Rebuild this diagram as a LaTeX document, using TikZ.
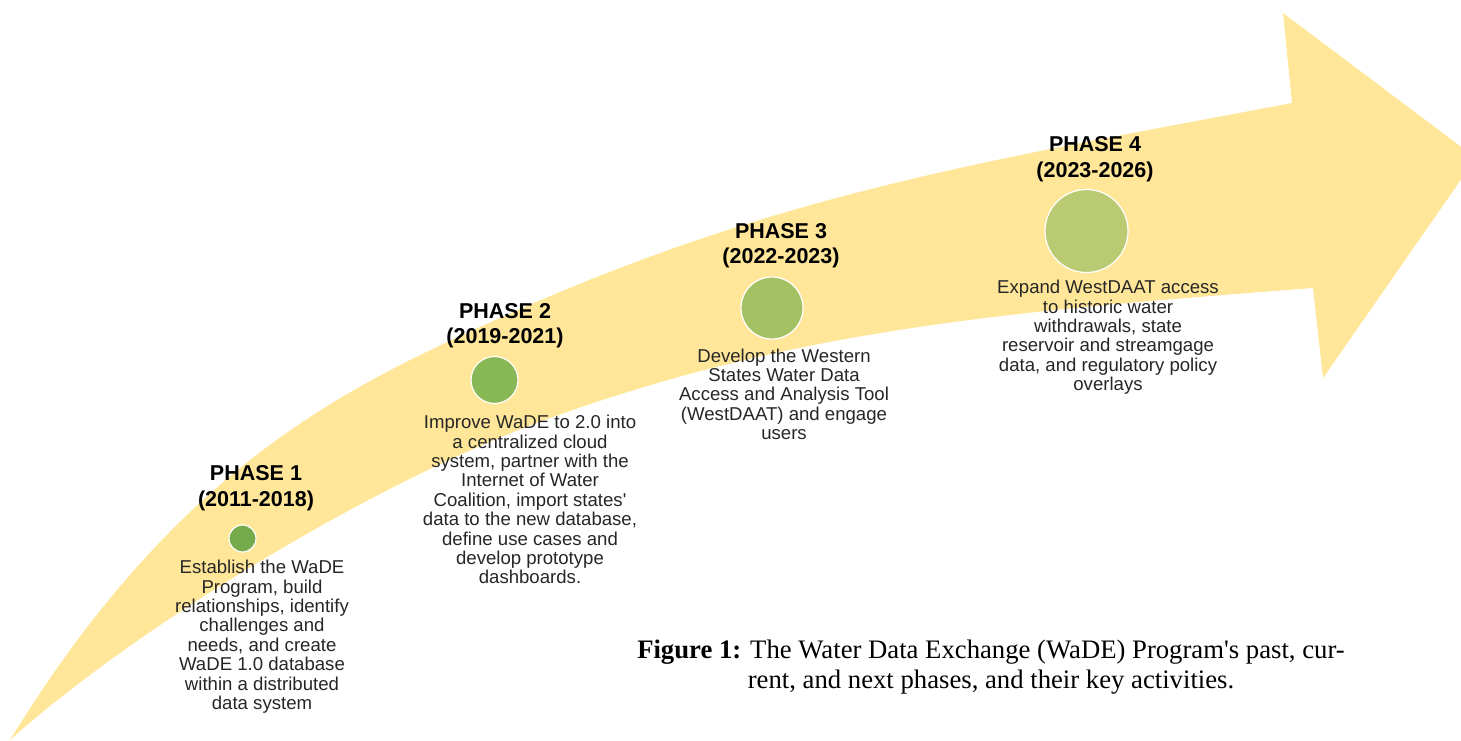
\documentclass[tikz,border=0pt]{standalone}
\usepackage{fontspec}
\setmainfont{Liberation Serif}
\newfontfamily\phasefont{Liberation Sans}
\definecolor{arrowgold}{RGB}{255,230,153}
\definecolor{dotA}{RGB}{118,171,76}
\definecolor{dotB}{RGB}{136,183,86}
\definecolor{dotC}{RGB}{163,193,98}
\definecolor{dotD}{RGB}{185,202,114}
\definecolor{bodygray}{RGB}{38,38,38}

\begin{document}
\begin{tikzpicture}[x=1pt, y=-1pt, line join=bevel]

    \tikzset{
      phase_dot/.style    = {circle, draw=white, line width=1.2pt, inner sep=0pt},
      phase_head/.style   = {anchor=north, inner sep=0pt, align=center,
                             font=\phasefont\bfseries\fontsize{21.5}{25.5}\selectfont},
      phase_text/.style   = {anchor=north, inner sep=0pt, align=center, text=bodygray,
                             font=\phasefont\fontsize{18.6}{19.4}\selectfont},
      caption_text/.style = {anchor=north, inner sep=0pt, align=center,
                             font=\fontsize{26.7}{30}\selectfont}
    }

    \useasboundingbox (0,0) rectangle (1461,740);

    % curved arrow, its tip runs out of the page
    \begin{scope}
        \clip (0,0) rectangle (1461,740);
        \fill[arrowgold]
            (10,740)   .. controls (180,463)   and (350,385.5) .. (500,318)
                       .. controls (780,192)   and (992,160)   .. (1292,103) --
            (1283,13)  --
            (1476,158) --
            (1323,378) --
            (1313,288) .. controls (1013,311)  and (800,328)   .. (550,418)
                       .. controls (370,482.8) and (130,632)   .. (10,740)   --
            cycle;
    \end{scope}

    % phase dots
    \foreach \name/\cx/\cy/\rad/\col in {
        dot1/242.5/538.5/13.5/dotA,
        dot2/494.5/380/23.5/dotB,
        dot3/772/308/31/dotC,
        dot4/1086.5/231/41.5/dotD%
    }{
        \node[phase_dot, fill=\col, minimum size=2*\rad] (\name) at (\cx,\cy) {};
    }

    % phase titles
    \foreach \name/\cx/\cy/\num/\yrs in {
        head1/256/465.3/1/2011-2018,
        head2/505/302.9/2/2019-2021,
        head3/781/223/3/2022-2023,
        head4/1095/136.3/4/2023-2026%
    }{
        \node[phase_head] (\name) at (\cx,\cy) {PHASE \num\\(\yrs)};
    }

    % key activities
    \node[phase_text] (text1) at (262,560)
        {Establish the WaDE\\Program, build\\relationships, identify\\challenges and\\needs, and create\\WaDE 1.0 database\\within a distributed\\data system};
    \node[phase_text] (text2) at (530,415)
        {Improve WaDE to 2.0 into\\a centralized cloud\\system, partner with the\\Internet of Water\\Coalition, import states\textquotesingle\\data to the new database,\\define use cases and\\develop prototype\\dashboards.};
    \node[phase_text] (text3) at (784,348.4)
        {Develop the Western\\States Water Data\\Access and Analysis Tool\\(WestDAAT) and engage\\users};
    \node[phase_text] (text4) at (1108,280)
        {Expand WestDAAT access\\to historic water\\withdrawals, state\\reservoir and streamgage\\data, and regulatory policy\\overlays};

    \node[caption_text] (caption) at (991,640)
        {\textbf{Figure 1:} The Water Data Exchange (WaDE) Program\textquotesingle s past, cur-\\rent, and next phases, and their key activities.};
\end{tikzpicture}
\end{document}
